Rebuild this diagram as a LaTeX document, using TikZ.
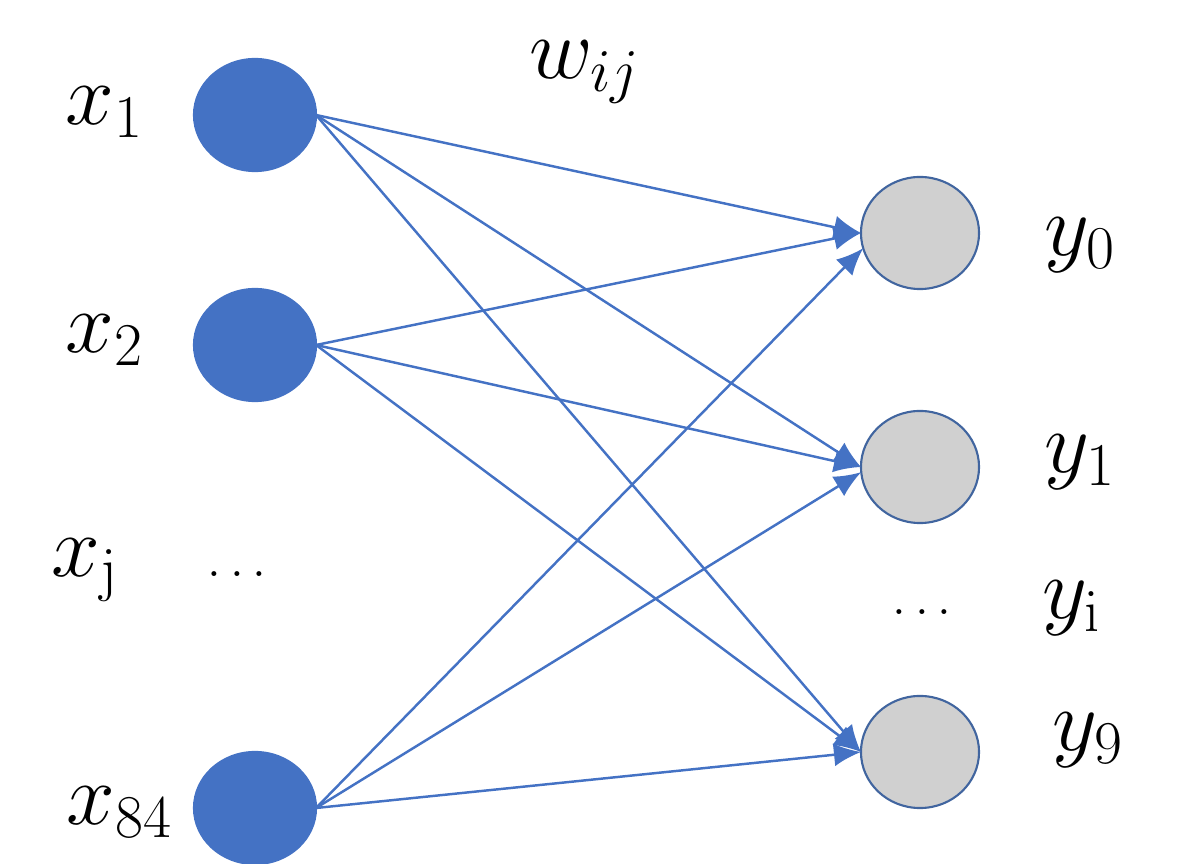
\documentclass[tikz,border=0pt]{standalone}
\usepackage{amssymb}
\usetikzlibrary{shapes,arrows.meta,positioning}
\definecolor{inblue}{HTML}{4472C4}
\definecolor{outgray}{HTML}{D0D0D0}
\definecolor{outrim}{HTML}{41659F}

\begin{document}
\begin{tikzpicture}[x=.01cm,y=-.01cm,
	innode/.style={ellipse,fill=inblue,draw=inblue,line width=.6pt,minimum width=1.22cm,minimum height=1.12cm,outer sep=0pt},
	outnode/.style={ellipse,fill=outgray,draw=outrim,line width=.6pt,minimum width=1.18cm,minimum height=1.12cm,outer sep=0pt},
	wire/.style={draw=inblue,line width=.7pt,-{Latex[length=2.7mm,width=2.3mm]}},
	lbl/.style={font=\fontsize{24}{28}\selectfont},
	dotlbl/.style={font=\fontsize{15}{18}\selectfont}]
	\useasboundingbox (0,0) rectangle (1184,864);

	\foreach \i/\y in {1/115,2/345,84/808} \node[innode] (x\i) at (255,\y) {};
	\foreach \o/\y in {0/233,1/467,9/752} \node[outnode] (y\o) at (920,\y) {};

	\foreach \i in {1,2} \foreach \o in {0,1,9} \draw[wire] (x\i.east) -- (y\o.west);
	\foreach \o/\a in {0/195,1/185,9/west} \draw[wire] (x84.east) -- (y\o.\a);

	\node[lbl] (lx1) at (105,112) {$x_1$};
	\node[lbl] (lx2) at (105,340) {$x_2$};
	\node[lbl] (lxj) at (85,570) {$x_{\mathrm{j}}$};
	\node[dotlbl] (ldotsin) at (237,574) {$\dots$};
	\node[lbl] (lx84) at (120,812) {$x_{84}$};
	\node[lbl] (lw) at (585,72) {$w_{ij}$};
	\node[lbl] (ly0) at (1080,245) {$y_0$};
	\node[lbl] (ly1) at (1080,462) {$y_1$};
	\node[dotlbl] (ldotsout) at (922,612) {$\dots$};
	\node[lbl] (lyi) at (1072,608) {$y_{\mathrm{i}}$};
	\node[lbl] (ly9) at (1088,740) {$y_9$};
\end{tikzpicture}
\end{document}
